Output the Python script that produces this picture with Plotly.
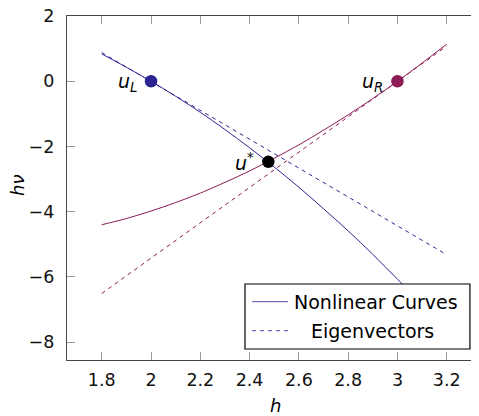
import plotly.graph_objects as go

# ---- data ----
h_vals = [1.8, 1.9, 2.0, 2.1, 2.2, 2.3, 2.4, 2.5, 2.6, 2.7, 2.8, 2.9, 3.0, 3.1, 3.2]
hv_curve_left = [0.84, 0.43, 0.0, -0.46, -0.95, -1.48, -2.04, -2.63, -3.25, -3.91, -4.59, -5.31, -6.07, -6.85, -7.67]
hv_curve_right = [-4.40, -4.21, -3.98, -3.72, -3.43, -3.10, -2.75, -2.36, -1.95, -1.50, -1.03, -0.53, 0.0, 0.56, 1.14]

eig_h = [1.8, 3.2]
eig_left = [0.88, -5.32]
eig_right = [-6.51, 1.08]

point_names = ["u_L", "u_R", "u*"]
point_h = [2.0, 3.0, 2.476]
point_hv = [0.0, 0.0, -2.47]

x_ticks = [1.8, 2.0, 2.2, 2.4, 2.6, 2.8, 3.0, 3.2]
x_tick_text = ["1.8", "2", "2.2", "2.4", "2.6", "2.8", "3", "3.2"]
y_ticks = [-8, -6, -4, -2, 0, 2]

legend_names = ["Nonlinear Curves", "Eigenvectors"]
legend_dash = ["solid", "4px,4px"]

BLUE = "#2e2694"
RED = "#8c1b56"
LEG = "#7670c4"
FONT = "DejaVu Sans"

fig = go.Figure()

fig.add_trace(go.Scatter(x=h_vals, y=hv_curve_left, mode="lines", line=dict(color=BLUE, width=1, shape="spline"), showlegend=False))
fig.add_trace(go.Scatter(x=h_vals, y=hv_curve_right, mode="lines", line=dict(color=RED, width=1, shape="spline"), showlegend=False))
fig.add_trace(go.Scatter(x=eig_h, y=eig_left, mode="lines", line=dict(color=BLUE, width=1, dash="4px,4px"), showlegend=False))
fig.add_trace(go.Scatter(x=eig_h, y=eig_right, mode="lines", line=dict(color=RED, width=1, dash="4px,4px"), showlegend=False))

fig.add_trace(go.Scatter(x=point_h, y=point_hv, mode="markers",
                         marker=dict(size=12.5, color=["#2b2390", RED, "#000000"], line=dict(width=0)),
                         showlegend=False))
fig.add_trace(go.Scatter(x=[None], y=[None], yaxis="y2", showlegend=False))

label_text = {"u_L": "<i>u<sub>L</sub></i>", "u_R": "<i>u<sub>R</sub></i>", "u*": "<i>u</i><sup>*</sup>"}
label_shift = {"u_L": (-12, -1), "u_R": (-12, -1), "u*": (-12, 0)}
for name, hx, hy in zip(point_names, point_h, point_hv):
    fig.add_annotation(x=hx, y=hy, text=label_text[name], showarrow=False, xanchor="right", yanchor="middle",
                       xshift=label_shift[name][0], yshift=label_shift[name][1],
                       font=dict(family=FONT, size=19, color="black"))

# ---- legend box (drawn by hand to match the reference layout) ----
fig.add_shape(type="rect", xref="paper", yref="paper", x0=0.432, x1=0.978, y0=0.032, y1=0.221,
              line=dict(color="black", width=1.2), fillcolor="white", layer="above")
leg_rows = [0.1695, 0.0852]
leg_text_x = [0.7512, 0.7427]
for name, dash, yy, tx in zip(legend_names, legend_dash, leg_rows, leg_text_x):
    fig.add_shape(type="line", xref="paper", yref="paper", x0=0.449, x1=0.5364, y0=yy, y1=yy,
                  line=dict(color=LEG, width=1.2, dash=dash), layer="above")
    fig.add_annotation(xref="paper", yref="paper", x=tx, y=yy, text=name, showarrow=False,
                       xanchor="center", yanchor="middle", font=dict(family=FONT, size=19, color="black"))

# ---- axis titles ----
fig.add_annotation(xref="paper", yref="paper", x=0.507, y=-0.131, text="<i>h</i>", showarrow=False,
                   xanchor="center", yanchor="middle", font=dict(family=FONT, size=18, color="black"))
fig.add_annotation(xref="paper", yref="paper", x=-0.119, y=0.509, text="<i>hν</i>", showarrow=False,
                   xanchor="center", yanchor="middle", textangle=-90, font=dict(family=FONT, size=18, color="black"))

fig.update_layout(
    width=471, height=408,
    margin=dict(l=59, r=0, t=8, b=56, autoexpand=False),
    paper_bgcolor="white", plot_bgcolor="white",
    font=dict(family=FONT, size=17.5, color="#111"),
    showlegend=False,
    xaxis=dict(range=[1.659, 3.331], tickvals=x_ticks, ticktext=x_tick_text, ticks="inside", ticklen=8,
               tickcolor="#999", showline=True, linecolor="#444", linewidth=1.3, mirror="ticks",
               showgrid=False, zeroline=False, ticklabelstandoff=4, automargin=False,
               ticklabeloverflow="allow"),
    yaxis=dict(range=[-8.55, 2.003], tickvals=y_ticks, ticks="inside", ticklen=8, tickcolor="#999",
               showline=True, linecolor="#444", linewidth=1.3, mirror=False, showgrid=False, zeroline=False,
               ticklabelstandoff=8, automargin=False, ticklabeloverflow="allow"),
    yaxis2=dict(overlaying="y", matches="y", side="right", tickvals=y_ticks, ticks="inside", ticklen=8,
                tickcolor="#999", showticklabels=False, showline=False, showgrid=False, zeroline=False,
                automargin=False),
)

fig.write_html("out.html")
